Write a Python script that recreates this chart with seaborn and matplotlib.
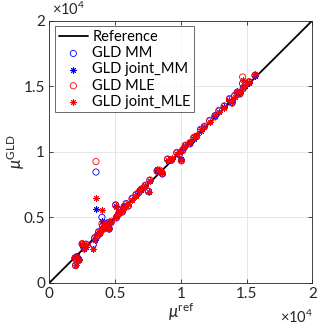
import numpy as np
import pandas as pd
import seaborn as sns
import matplotlib.pyplot as plt
from matplotlib.ticker import FuncFormatter, MultipleLocator

# reference values and GLD estimates
ref = [1950, 2000, 2100, 2250, 2500, 2650, 2800, 3350, 3450, 3550, 3650, 3750, 3850, 4000,
       4050, 4150, 4250, 4350, 4450, 4550, 4700, 5050, 5100, 5250, 5400, 5550, 5700, 5850,
       6000, 6300, 6600, 6800, 7000, 7300, 7550, 7650, 8200, 8400, 8600, 9000, 9300, 9700,
       9900, 10050, 10150, 10350, 10700, 11000, 11200, 11500, 11800, 12200, 12600, 12900,
       13300, 13700, 13900, 14100, 14300, 14500, 14700, 14750, 14900, 15200, 15650]
gld_mm = [1900, 1350, 2000, 1750, 2950, 2600, 2950, 2950, 3400, 8450, 3600, 3900, 3750, 5000,
          4300, 4150, 4500, 4300, 4550, 4100, 4600, 5950, 4950, 5200, 5500, 5400, 5800, 6050,
          5850, 6400, 6700, 6900, 7150, 7400, 6950, 7800, 8550, 8500, 8300, 9400, 9350, 9900,
          9800, 9350, 10100, 10450, 10600, 11050, 11150, 11700, 11900, 12350, 12750, 13100,
          13450, 14000, 13750, 14250, 14550, 14400, 15200, 14850, 15050, 15300, 15800]
gld_joint_mm = [1950, 1400, 2050, 1800, 2900, 2650, 2750, 2600, 3300, 5600, 3700, 3800, 3900, 4700,
                4200, 4250, 4400, 4450, 4500, 4200, 4650, 5850, 5050, 5300, 5450, 5500, 5750, 5900,
                6000, 6350, 6650, 7000, 7050, 7350, 6900, 7750, 8600, 8450, 8400, 9300, 9450, 9850,
                10000, 9450, 10200, 10400, 10650, 11000, 11250, 11600, 11850, 12300, 12700, 13000,
                13400, 13900, 13800, 14200, 14450, 14500, 14900, 14950, 15000, 15250, 15750]
gld_mle = [1850, 1300, 1950, 1700, 3000, 2700, 2900, 2900, 3450, 9250, 3550, 3850, 3800, 4500,
           4350, 4100, 4450, 4400, 4600, 4150, 4700, 5900, 5000, 5250, 5550, 5450, 5850, 6000,
           5900, 6450, 6750, 6850, 7100, 7450, 7000, 7850, 8500, 8600, 8350, 9450, 9400, 9950,
           9850, 9300, 10150, 10500, 10700, 11100, 11200, 11650, 11950, 12400, 12650, 13150,
           13500, 14050, 13700, 14300, 14500, 14450, 15700, 14800, 15100, 15350, 15850]
gld_joint_mle = [1900, 1350, 2000, 1750, 2950, 2600, 2850, 2600, 3350, 6500, 3650, 3750, 3850, 5550,
                 4250, 4200, 4500, 4350, 4450, 4100, 4650, 5800, 5100, 5300, 5400, 5500, 5700, 5950,
                 6050, 6300, 6600, 7050, 7200, 7350, 6950, 7750, 8650, 8550, 8450, 9350, 9500, 9800,
                 9950, 9400, 10250, 10450, 10750, 11150, 11300, 11750, 11900, 12250, 12800, 13050,
                 13350, 13950, 13850, 14150, 14600, 14550, 15500, 14900, 15050, 15300, 15900]
line_ref = [0, 20000]

sns.set_style("ticks")
plt.rcParams['font.family'] = ['Lato', 'DejaVu Sans']
plt.rcParams['mathtext.fontset'] = 'custom'
plt.rcParams['mathtext.rm'] = 'Lato'
plt.rcParams['mathtext.it'] = 'Lato:italic'

fig = plt.figure(figsize=(3.18, 3.32), dpi=100)
ax = fig.add_axes([0.155, 0.148, 0.827, 0.79])

txt = '#262626'
ax.plot(line_ref, line_ref, color='black', lw=1.3, label='Reference', zorder=2)

series = [
    (gld_mm, 'GLD MM', 'blue', 'o'),
    (gld_joint_mm, 'GLD joint_MM', 'blue', (8, 2, 0)),
    (gld_mle, 'GLD MLE', 'red', 'o'),
    (gld_joint_mle, 'GLD joint_MLE', 'red', (8, 2, 0)),
]
for vals, name, col, mk in series:
    df = pd.DataFrame({'ref': ref, 'gld': vals})
    if mk == 'o':
        sns.scatterplot(data=df, x='ref', y='gld', ax=ax, marker='o', s=20,
                        facecolor='none', edgecolor=col, linewidth=0.6, label=name, zorder=3)
    else:
        sns.scatterplot(data=df, x='ref', y='gld', ax=ax, marker=mk, s=16,
                        color=col, edgecolor=col, linewidth=0.7, label=name, zorder=3)

ax.set_xlim(0, 20000)
ax.set_ylim(0, 20000)
ax.xaxis.set_major_locator(MultipleLocator(5000))
ax.yaxis.set_major_locator(MultipleLocator(5000))
fmt = FuncFormatter(lambda v, p: f"{v / 1e4:g}")
ax.xaxis.set_major_formatter(fmt)
ax.yaxis.set_major_formatter(fmt)
ax.grid(True, color='#e6e6e6', lw=0.7)
ax.set_axisbelow(True)
ax.tick_params(direction='in', length=3, width=0.6, colors=txt, labelsize=11,
               top=True, right=True, labelcolor=txt, pad=3)
for s in ax.spines.values():
    s.set_color(txt)
    s.set_linewidth(0.6)

ax.set_xlabel(r'$\mathit{\mu}^{\rm ref}$', fontsize=12, color=txt, labelpad=0)
ax.set_ylabel(r'$\mathit{\mu}^{\rm GLD}$', fontsize=12, color=txt, labelpad=-2)

fig.text(0.163, 0.946, r'$\times10^{4}$', fontsize=10.5, color=txt, ha='left', va='bottom')
fig.text(0.985, 0.018, r'$\times10^{4}$', fontsize=10.5, color=txt, ha='right', va='bottom')

leg = ax.legend(loc='upper left', fontsize=10.5, frameon=True, fancybox=False,
                edgecolor=txt, handlelength=2.0, handletextpad=0.3, borderpad=0.25,
                labelspacing=0.15, borderaxespad=0.4, markerscale=1.0)
leg.get_frame().set_linewidth(0.6)
for t in leg.get_texts():
    t.set_color('black')

fig.savefig('out.png', dpi=100)
